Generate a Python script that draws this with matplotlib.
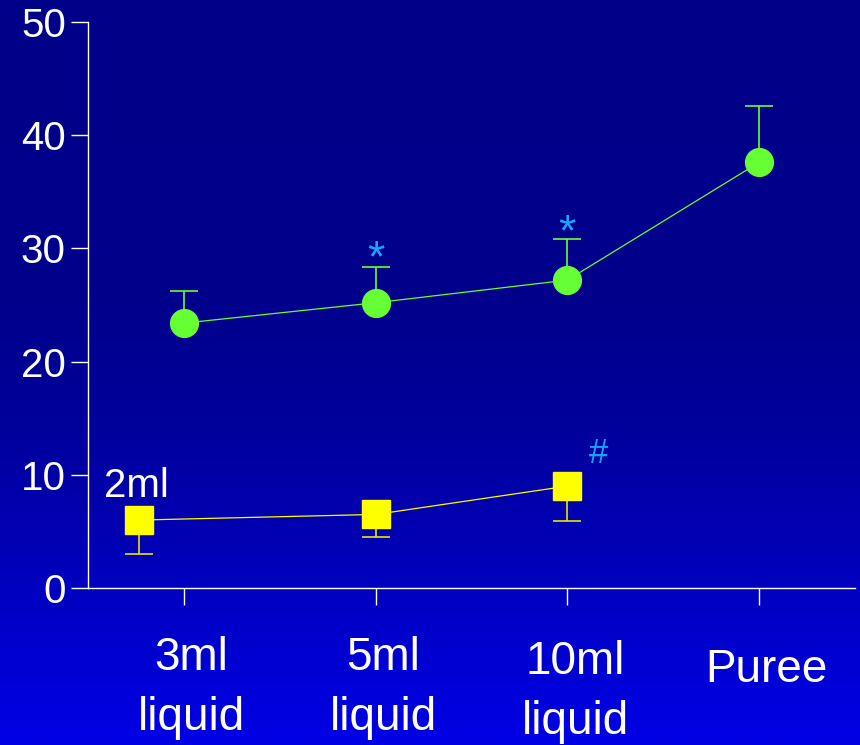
import numpy as np
import matplotlib.pyplot as plt
from matplotlib.colors import LinearSegmentedColormap
from matplotlib import transforms

plt.rcParams['font.family'] = ['Liberation Sans', 'DejaVu Sans']

# data
categories = ['3ml\nliquid', '5ml\nliquid', '10ml\nliquid', 'Puree']
green_x = [1, 2, 3, 4]
green_y = [23.4, 25.2, 27.2, 37.6]
green_err = [2.8, 3.2, 3.6, 5.0]

yellow_x = [0.765, 2, 3]
yellow_y = [6.0, 6.5, 9.0]
yellow_err = [3.0, 2.0, 3.1]

star_x = [2, 3]
star_y = [29.0, 31.3]

fig = plt.figure(figsize=(8.6, 7.45), dpi=100)

# background gradient, dark navy on top to brighter blue at bottom
bg = fig.add_axes([0, 0, 1, 1])
stops = [(0.0, '#000088'), (0.40, '#00008c'), (0.56, '#00009a'),
         (0.70, '#0000b0'), (0.97, '#0000e0'), (1.0, '#0000e4')]
cmap = LinearSegmentedColormap.from_list('bg', stops)
grad = np.linspace(0, 1, 400).reshape(-1, 1)
bg.imshow(grad, aspect='auto', cmap=cmap, extent=[0, 1, 1, 0])
bg.set_axis_off()

ax = fig.add_axes([88/860, 1 - 588/745, (855-88)/860, (588-22)/745])
ax.patch.set_alpha(0)

ax.errorbar(green_x, green_y, yerr=[np.zeros(4), green_err], color='#66ff33',
            lw=0.8, elinewidth=1.2, capsize=10, capthick=1.2, fmt='none')
ax.plot(green_x, green_y, color='#66ff33', lw=0.9, marker='o', ms=20,
        markerfacecolor='#66ff33', markeredgecolor='#66ff33', zorder=3)

ax.errorbar(yellow_x, yellow_y, yerr=[yellow_err, np.zeros(3)], color='#e6e600',
            elinewidth=1.2, capsize=10, capthick=1.2, fmt='none')
ax.plot(yellow_x, yellow_y, color='#ffff00', lw=0.9, marker='s', ms=20,
        markerfacecolor='#ffff00', markeredgecolor='#ffff00', zorder=3)

for x, y in zip(star_x, star_y):
    ax.text(x, y, '*', color='#1aa3ff', fontsize=32, ha='center', va='center')
ax.text(3.16, 11.9, '#', color='#1aa3ff', fontsize=25, ha='center', va='center')
ax.text(0.585, 9.0, '2ml', color='white', fontsize=29, ha='left', va='center')

ax.set_xlim(0.5, 4.5)
ax.set_ylim(0, 50)
ax.set_yticks([0, 10, 20, 30, 40, 50])
ax.set_xticks(green_x)
ax.set_xticklabels([])
ax.tick_params(axis='y', colors='white', labelsize=29, length=12, width=1, pad=4)
ax.tick_params(axis='x', colors='white', length=12, width=1)
for s in ['top', 'right']:
    ax.spines[s].set_visible(False)
for s in ['left', 'bottom']:
    ax.spines[s].set_color('white')
    ax.spines[s].set_linewidth(1)

# category labels sit below the axis, two lines each
trans = transforms.blended_transform_factory(ax.transData, fig.transFigure)
label_y = [688, 688, 692, 670]
for x, lab, yp in zip(green_x, categories, label_y):
    ax.text(x + 0.04, 1 - yp/745, lab, transform=trans, color='white',
            fontsize=33, ha='center', va='center', linespacing=1.45)

fig.savefig('out.png', dpi=100)
